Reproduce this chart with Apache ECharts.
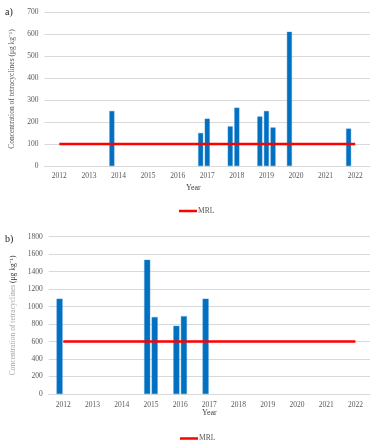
<!DOCTYPE html>
<html>
<head>
<meta charset="utf-8">
<script src="https://cdn.jsdelivr.net/npm/echarts@6/dist/echarts.min.js"></script>
<style>
html,body{margin:0;padding:0;background:#fff;}
#chart{width:377px;height:444px;}
</style>
</head>
<body>
<div id="chart"></div>
<script>
const years = ['2012','2013','2014','2015','2016','2017','2018','2019','2020','2021','2022'];
// Panel a) sample groups per year (slot 1, 2, 3)
const aSlot1 = [null, null, 250, null, null, 150, 180, 225, 610, null, 170];
const aSlot2 = [null, null, null, null, null, 215, 265, 250, null, null, null];
const aSlot3 = [null, null, null, null, null, null, null, 175, null, null, null];
const aMRL   = [100, 100, 100, 100, 100, 100, 100, 100, 100, 100, 100];
// Panel b) sample groups per year (slot 1, 2)
const bSlot1 = [1090, null, null, 1535, 780, 1090, null, null, null, null, null];
const bSlot2 = [null, null, null, 880, 890, null, null, null, null, null, null];
const bMRL   = [600, 600, 600, 600, 600, 600, 600, 600, 600, 600, 600];
const aTicks = {min: 0, max: 700, interval: 100};
const bTicks = {min: 0, max: 1800, interval: 200};

const FONT = 'Liberation Serif';
const BLUE = '#0070C0';
const RED = '#FF0000';
const GRID = '#d9d9d9';
const LABEL = '#595959';

const chart = echarts.init(document.getElementById('chart'), null, {renderer: 'canvas'});

function xAxis(gridIndex, margin) {
  return {
    type: 'category', gridIndex, data: years, boundaryGap: true,
    axisTick: {show: false},
    axisLine: {show: true, lineStyle: {color: GRID, width: 1}},
    axisLabel: {interval: 0, fontFamily: FONT, fontSize: 7.5, color: LABEL, margin}
  };
}
function yAxis(gridIndex, t, name, nameGap, rich) {
  return {
    type: 'value', gridIndex, min: t.min, max: t.max, interval: t.interval,
    axisLine: {show: false}, axisTick: {show: false},
    splitLine: {lineStyle: {color: GRID, width: 1}},
    axisLabel: {fontFamily: FONT, fontSize: 7.5, color: LABEL, margin: 6,
      formatter: v => String(v)},
    name, nameLocation: 'middle', nameRotate: 90, nameGap,
    nameTextStyle: Object.assign({fontFamily: FONT, fontSize: 7.5, color: LABEL}, rich ? {rich} : {})
  };
}
function bar(data, xi, w, gap) {
  return {type: 'bar', xAxisIndex: xi, yAxisIndex: xi, data, barWidth: w, barGap: gap,
    itemStyle: {color: BLUE, borderColor: '#3d8fd6', borderWidth: 0.4}, z: 2, silent: true};
}
function mrl(data, xi) {
  return {type: 'line', name: 'MRL', xAxisIndex: xi, yAxisIndex: xi, data,
    symbol: 'none', lineStyle: {color: RED, width: 2.5}, itemStyle: {color: RED}, z: 5, silent: true};
}

const option = {
  animation: false,
  grid: [
    {left: 44.5, right: 7, top: 12, height: 154},
    {left: 48.7, right: 7, top: 236.7, height: 157.3}
  ],
  xAxis: [xAxis(0, 6), xAxis(1, 7)],
  yAxis: [
    yAxis(0, aTicks, 'Concentration of tetracyclines (μg kg⁻¹)', 20),
    yAxis(1, bTicks, '{l|Concentration of tetracyclines }{d|(μg kg⁻¹)}', 25,
      {l: {fontFamily: FONT, fontSize: 7.5, color: '#a6a6a6'}, d: {fontFamily: FONT, fontSize: 7.5, color: '#333333'}})
  ],
  legend: [
    {data: ['MRL'], left: 174, top: 202, icon: 'rect', itemWidth: 18, itemHeight: 2.5,
     textStyle: {fontFamily: FONT, fontSize: 7.5, color: LABEL, padding: [0, 0, 0, -4]}},
    {data: ['MRL'], left: 175, top: 429.5, icon: 'rect', itemWidth: 18, itemHeight: 2.5,
     textStyle: {fontFamily: FONT, fontSize: 7.5, color: LABEL, padding: [0, 0, 0, -4]}}
  ],
  graphic: [
    {type: 'text', left: 5, top: 7, style: {text: 'a)', font: '10px "Liberation Serif"', fill: '#222'}},
    {type: 'text', left: 5, top: 234, style: {text: 'b)', font: '10px "Liberation Serif"', fill: '#222'}},
    {type: 'text', left: 186, top: 184, style: {text: 'Year', font: '8px "Liberation Serif"', fill: '#404040'}},
    {type: 'text', left: 202, top: 409, style: {text: 'Year', font: '8px "Liberation Serif"', fill: '#404040'}}
  ],
  series: [
    bar(aSlot1, 0, 5, '32%'), bar(aSlot2, 0, 5, '32%'), bar(aSlot3, 0, 5, '32%'),
    mrl(aMRL, 0),
    bar(bSlot1, 1, 6, '25%'), bar(bSlot2, 1, 6, '25%'),
    mrl(bMRL, 1)
  ]
};
chart.setOption(option);
</script>
</body>
</html>
